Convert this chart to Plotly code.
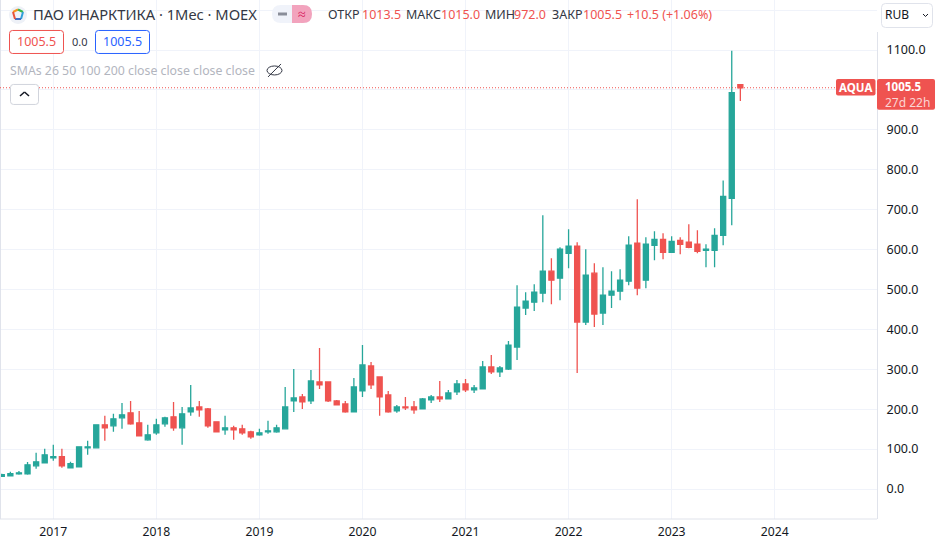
import plotly.graph_objects as go

# Monthly bars, Jul 2016 to Sep 2023
open_ = [31.6,33.3,38.3,38.3,58.2,65.8,78.3,80.8,53.3,55.8,103.3,103.3,160.8,158.3,178.3,190.8,165.8,123.3,
         140.8,163.3,180.8,153.3,193.3,205.8,200.8,168.3,148.3,153.3,150.8,143.3,135.8,143.3,143.3,150.8,220.8,230.8,
         220.8,268.3,268.3,220.8,213.3,193.3,245.8,308.3,280.8,235.8,195.8,205.8,205.8,200.8,223.3,230.8,225.8,243.3,
         263.3,248.3,250.8,305.8,293.3,300.8,355.8,453.3,468.3,490.8,545.8,528.3,590.8,608.3,418.3,540.8,440.8,485.8,
         495.8,520.8,615.8,523.3,610.8,625.8,593.3,623.3,618.3,613.3,598.3,598.3,635.8,728.3,1013.5]
high = [38.3,43.3,45.0,68.0,90.8,100.8,110.8,100.8,68.3,105.8,120.8,160.8,183.3,188.3,215.8,220.8,195.8,160.8,
        175.8,180.8,218.3,205.8,260.8,220.8,203.3,168.3,183.3,158.3,160.8,145.8,150.8,170.8,160.8,255.8,300.8,238.3,
        298.3,353.3,268.3,223.3,220.8,278.3,360.8,318.3,280.8,245.8,210.8,230.8,220.8,228.3,235.8,270.8,248.3,273.3,
        275.8,260.8,320.8,335.8,308.3,370.8,510.8,493.3,513.3,685.8,578.3,605.8,650.8,618.3,600.8,565.8,555.8,545.8,
        550.8,633.3,725.8,630.8,645.8,640.8,633.3,630.8,663.3,648.3,613.3,653.3,773.3,1098.3,1015.0]
low = [30.8,33.0,35.7,35.7,50.8,65.8,70.8,53.3,53.3,55.8,85.8,103.3,120.8,143.3,150.8,160.8,133.3,120.8,
       135.8,155.8,145.8,110.8,183.3,180.8,153.3,143.3,135.8,123.3,135.8,125.8,133.3,138.3,140.8,150.8,193.3,200.8,
       213.3,250.8,218.3,210.8,190.8,193.3,230.8,250.8,183.3,190.8,190.8,198.3,188.3,200.8,215.8,218.3,225.8,235.8,
       243.3,240.8,250.8,288.3,280.8,298.3,323.3,435.8,445.8,468.3,463.3,473.3,553.3,290.8,410.8,405.8,410.8,453.3,
       473.3,510.8,485.8,503.3,573.3,575.8,593.3,588.3,603.3,590.8,555.8,555.8,610.8,660.8,972.0]
close = [35.7,38.3,40.7,60.7,68.2,85.8,80.8,58.3,63.3,105.8,105.8,160.8,153.3,175.8,185.8,163.3,133.3,135.8,
         160.8,178.3,153.3,188.3,203.3,198.3,158.3,143.3,153.3,148.3,140.8,130.8,140.8,145.8,153.3,205.8,228.3,218.3,
         270.8,260.8,220.8,210.8,193.3,255.8,310.8,260.8,230.8,193.3,205.8,203.3,198.3,225.8,230.8,225.8,240.8,263.3,
         248.3,253.3,305.8,293.3,303.3,360.8,455.8,470.8,493.3,545.8,523.3,600.8,608.3,418.3,535.8,438.3,485.8,495.8,
         523.3,610.8,503.3,613.3,625.8,593.3,620.8,613.3,605.8,595.8,600.8,635.8,733.3,993.3,1005.5]
bar_index = list(range(len(close)))

year_labels = ["2017", "2018", "2019", "2020", "2021", "2022", "2023", "2024"]
year_positions = [6, 18, 30, 42, 54, 66, 78, 90]
price_ticks = [0, 100, 200, 300, 400, 500, 600, 700, 800, 900, 1000, 1100, 1200]
price_labels = ["0.0", "100.0", "200.0", "300.0", "400.0", "500.0", "600.0", "700.0", "800.0", "900.0", "", "1100.0", ""]
last_price = 1005.5

UP = "#26a69a"
DOWN = "#ef5350"
FONT = "Noto Sans"
W, H = 935, 539
PLOT_R, PLOT_B = 877, 519.3
INK = "#131722"
GRID = "#f0f3fa"

def px(x):
    return x / PLOT_R

def py(y):
    return 1 - y / PLOT_B

shapes = []
annotations = []

def text(x, y, s, color=INK, size=13, anchor="left"):
    annotations.append(dict(xref="paper", yref="paper", x=px(x), y=py(y), text=s, showarrow=False,
                            xanchor=anchor, yanchor="middle", font=dict(family=FONT, size=size, color=color),
                            borderpad=0, borderwidth=0))

def rect(x0, y0, x1, y1, fill="rgba(0,0,0,0)", line=None, r=0):
    if r:
        path = (f"M{px(x0+r)},{py(y0)} L{px(x1-r)},{py(y0)} Q{px(x1)},{py(y0)} {px(x1)},{py(y0+r)} "
                f"L{px(x1)},{py(y1-r)} Q{px(x1)},{py(y1)} {px(x1-r)},{py(y1)} L{px(x0+r)},{py(y1)} "
                f"Q{px(x0)},{py(y1)} {px(x0)},{py(y1-r)} L{px(x0)},{py(y0+r)} Q{px(x0)},{py(y0)} {px(x0+r)},{py(y0)} Z")
        shapes.append(dict(type="path", xref="paper", yref="paper", path=path, fillcolor=fill,
                           line=dict(color=line or fill, width=1 if line else 0)))
    else:
        shapes.append(dict(type="rect", xref="paper", yref="paper", x0=px(x0), x1=px(x1), y0=py(y0), y1=py(y1),
                           fillcolor=fill, line=dict(color=line or fill, width=1 if line else 0)))

def seg(x0, y0, x1, y1, color, width=1, dash="solid"):
    shapes.append(dict(type="line", xref="paper", yref="paper", x0=px(x0), x1=px(x1), y0=py(y0), y1=py(y1),
                       line=dict(color=color, width=width, dash=dash)))

# Axis frame
seg(0.5, 0, 0.5, PLOT_B, "#e0e3eb")
seg(877.5, 32, 877.5, PLOT_B, "#e0e3eb")
seg(0, PLOT_B, 877, PLOT_B, "#e0e3eb")

# Last price line
shapes.append(dict(type="line", xref="paper", yref="y", x0=0, x1=px(836), y0=last_price, y1=last_price,
                   line=dict(color=DOWN, width=1, dash="1px,2px")))

# Symbol icon
shapes.append(dict(type="circle", xref="paper", yref="paper", x0=px(9), x1=px(27), y0=py(6), y1=py(24),
                   fillcolor="#eef1f7", line=dict(width=0)))
seg(13, 12, 18, 9.5, "#f7941d", 2)
seg(18, 9.5, 23, 12, "#3ab54a", 2)
seg(23, 12, 21, 19, "#2e9fd8", 2)
seg(21, 19, 15, 19, "#3f6fc4", 2)
seg(15, 19, 13, 12, "#e8503a", 2)
text(33, 14.5, "ПАО ИНАРКТИКА · 1Мес · MOEX", "#333744", 14.7)

# Status pill
rect(272, 5, 312, 23, "#f0f3fa", r=9)
rect(292, 5, 312, 23, "#f2a3bd", r=9)
rect(292, 5, 300, 23, "#f2a3bd")
seg(278, 14, 287, 14, "#8a8e99", 3)
text(301.5, 13.5, "≈", "#d81b60", 14, "center")

# OHLC values
for x, s, c in [(328, "ОТКР", "#333744"), (362, "1013.5", DOWN), (406, "МАКС", "#333744"), (441, "1015.0", DOWN),
                (485, "МИН", "#333744"), (514, "972.0", DOWN), (551.5, "ЗАКР", "#333744"), (583, "1005.5", DOWN),
                (627, "+10.5 (+1.06%)", DOWN)]:
    text(x, 14.5, s, c, 12.5)

# Bid / ask boxes
rect(9.5, 30.5, 63.5, 53.5, "#ffffff", DOWN, 3)
text(36.5, 42, "1005.5", DOWN, 12.5, "center")
text(80, 42, "0.0", "#333744", 11, "center")
rect(95.5, 30.5, 149.5, 53.5, "#ffffff", "#2962ff", 3)
text(122.5, 42, "1005.5", "#2962ff", 12.5, "center")

# Indicator row
text(10, 70.5, "SMAs 26 50 100 200 close close close close", "#b2b5be", 12.3)
shapes.append(dict(type="circle", xref="paper", yref="paper", x0=px(267), x1=px(282), y0=py(66), y1=py(75),
                   line=dict(color="#333744", width=1)))
seg(268, 77, 281, 64, "#333744", 1)

# Collapse button
rect(10.5, 84.5, 38.5, 104.5, "#ffffff", "#d1d4dc", 3)
seg(20, 96, 24.5, 92, "#131722", 1.5)
seg(24.5, 92, 29, 96, "#131722", 1.5)

# Currency selector
rect(881.5, 3.5, 932.5, 27.5, "#ffffff", "#e0e3eb", 4)
text(885, 15, "RUB", "#131722", 12)
seg(923, 14, 925.5, 16.5, "#131722", 1)
seg(925.5, 16.5, 928, 14, "#131722", 1)

# Last price labels
rect(836, 79, 875.5, 95.5, DOWN, r=2)
text(855.5, 87.5, "<b>AQUA</b>", "#ffffff", 11.5, "center")
rect(877, 79, 935, 109.7, DOWN, r=2)
text(885, 86.5, "<b>1005.5</b>", "#ffffff", 11.5)
text(885, 102.5, "27d 22h", "#fbd5d4", 12)

fig = go.Figure(go.Candlestick(
    x=bar_index, open=open_, high=high, low=low, close=close,
    increasing=dict(line=dict(color=UP, width=1.3), fillcolor=UP),
    decreasing=dict(line=dict(color=DOWN, width=1.3), fillcolor=DOWN),
    whiskerwidth=0, showlegend=False,
))

# Pixel scale of the bar axis: 8.588 px per month, Jan 2017 (bar 6) at x = 53.3
x_lo = 6 - 53.3 / 8.588
x_hi = x_lo + PLOT_R / 8.588
# Pixel scale of the price axis: 0 at y = 489.3, 100 units = 39.93 px
y_hi = 489.3 * 100 / 39.93
y_lo = y_hi - PLOT_B * 100 / 39.93

fig.update_layout(
    width=W, height=H, autosize=False,
    margin=dict(l=0, r=W - PLOT_R, t=0, b=H - PLOT_B, pad=0),
    paper_bgcolor="#ffffff", plot_bgcolor="#ffffff",
    font=dict(family=FONT, size=12, color=INK),
    boxgap=0.16,
    shapes=shapes, annotations=annotations, showlegend=False,
    xaxis=dict(range=[x_lo, x_hi], rangeslider=dict(visible=False), tickmode="array", automargin=False,
               tickvals=year_positions, ticktext=year_labels, showgrid=True, gridcolor=GRID, gridwidth=1,
               zeroline=False, showline=False, ticks="outside", ticklen=1, tickcolor="rgba(0,0,0,0)",
               tickfont=dict(family=FONT, size=12.2, color=INK)),
    yaxis=dict(range=[y_lo, y_hi], side="right", tickmode="array", tickvals=price_ticks, ticktext=price_labels,
               automargin=False,
               showgrid=True, gridcolor=GRID, gridwidth=1, zeroline=False, showline=False, ticks="outside",
               ticklen=6, tickcolor="rgba(0,0,0,0)", tickfont=dict(family=FONT, size=12.5, color=INK)),
)

fig.write_html("out.html", config=dict(displayModeBar=False),
               post_script="document.body.style.margin='0';document.documentElement.style.overflow='hidden';")
